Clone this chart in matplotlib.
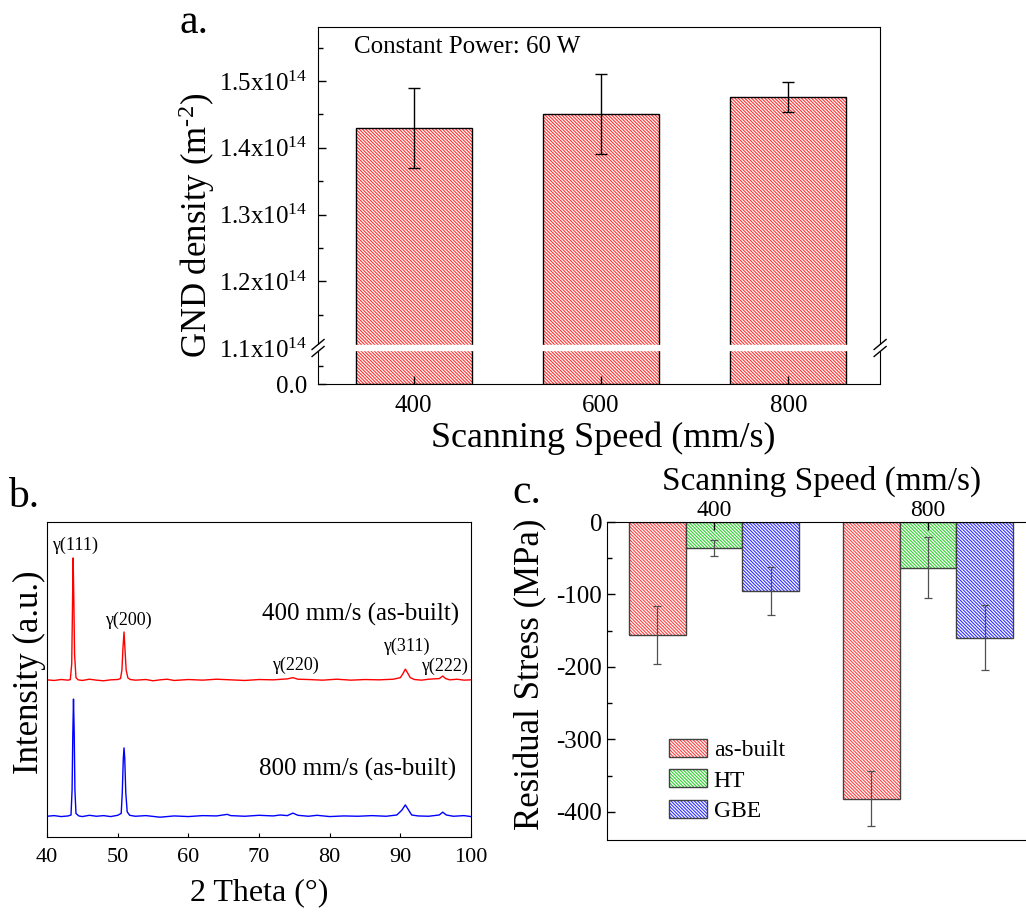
import numpy as np
import matplotlib.pyplot as plt
from matplotlib.patches import Patch, Rectangle
from matplotlib.lines import Line2D

plt.rcParams['font.family'] = 'Liberation Serif'
plt.rcParams['mathtext.fontset'] = 'custom'
plt.rcParams['mathtext.rm'] = 'Liberation Serif'
plt.rcParams['mathtext.it'] = 'Liberation Serif:italic'
plt.rcParams['axes.unicode_minus'] = False
plt.rcParams['hatch.linewidth'] = 0.8

HATCH = '\\' * 10

# (a) GND density vs scanning speed
speeds = ['400', '600', '800']
gnd = [1.43e14, 1.45e14, 1.476e14]
gnd_err = [0.06e14, 0.06e14, 0.023e14]
gnd_ticks = [0, 1.1e14, 1.2e14, 1.3e14, 1.4e14, 1.5e14]
gnd_labels = ['0.0', r'1.1x10$^{14}$', r'1.2x10$^{14}$', r'1.3x10$^{14}$',
              r'1.4x10$^{14}$', r'1.5x10$^{14}$']

# (b) XRD patterns (2 theta, intensity a.u.)
tt_400 = [40.0, 41.0, 42.0, 43.0, 43.3, 43.5, 43.6, 43.7, 43.8, 43.9, 44.1,
          44.4, 45.0, 46.0, 47.0, 48.0, 49.0, 50.0, 50.4, 50.6, 50.75, 50.9,
          51.05, 51.2, 51.45, 51.8, 52.5, 54.0, 55.0, 56.0, 57.0, 58.0, 60.0,
          62.0, 64.0, 66.0, 68.0, 70.0, 72.0, 74.0, 74.8, 75.5, 77.0, 79.0,
          81.0, 83.0, 85.0, 87.0, 89.0, 90.0, 90.4, 90.7, 91.0, 91.4, 92.0,
          93.0, 94.0, 95.5, 96.0, 96.4, 97.0, 98.0, 99.0, 100.0]
int_400 = [49.9, 49.7, 50.0, 49.8, 50.0, 55.0, 72.0, 88.6, 75.0, 58.0, 50.6,
           49.9, 49.7, 50.1, 49.8, 49.6, 49.9, 50.0, 50.3, 53.0, 60.0, 65.1,
           59.0, 53.0, 50.5, 50.0, 49.8, 50.0, 49.6, 49.9, 50.1, 49.7, 50.0,
           49.8, 50.1, 49.9, 49.7, 50.0, 49.9, 50.2, 50.6, 50.1, 50.0, 49.8,
           50.1, 49.8, 50.0, 49.9, 50.1, 50.6, 52.0, 53.3, 52.2, 50.6, 50.0,
           49.8, 50.1, 50.3, 51.1, 50.3, 49.9, 50.1, 49.8, 49.9]
tt_800 = [40.0, 41.0, 42.0, 43.0, 43.4, 43.55, 43.65, 43.75, 43.85, 43.95,
          44.1, 44.5, 45.0, 46.0, 47.0, 48.0, 49.0, 50.0, 50.5, 50.65, 50.8,
          50.9, 51.0, 51.15, 51.35, 51.7, 52.5, 54.0, 56.0, 58.0, 60.0, 62.0,
          64.0, 65.5, 66.0, 68.0, 70.0, 72.0, 73.0, 74.0, 74.8, 75.5, 77.0,
          78.2, 80.0, 82.0, 84.0, 86.0, 88.0, 89.5, 90.2, 90.7, 91.1, 91.6,
          92.5, 94.0, 95.5, 96.0, 96.5, 97.5, 99.0, 100.0]
int_800 = [6.6, 6.8, 6.5, 6.7, 7.0, 15.0, 32.0, 43.8, 33.0, 15.0,
           7.5, 6.7, 6.5, 6.9, 6.6, 6.8, 6.5, 6.9, 7.5, 14.0, 25.0,
           28.3, 25.0, 14.0, 8.0, 6.9, 6.6, 6.8, 6.3, 6.7, 6.5, 6.8,
           6.7, 7.2, 6.8, 6.6, 6.9, 6.7, 7.0, 6.8, 7.6, 6.9, 6.6,
           6.9, 6.5, 6.7, 6.6, 6.8, 6.6, 7.0, 8.5, 10.2, 8.8, 7.0,
           6.7, 6.6, 7.0, 7.9, 7.0, 6.6, 6.8, 6.5]
peak_names = ['\u03b3(111)', '\u03b3(200)', '\u03b3(220)',
              '\u03b3(311)', '\u03b3(222)']
peak_x = [43.96, 51.5, 75.1, 90.8, 96.2]
peak_y = [92.7, 68.9, 54.6, 60.6, 54.3]

# (c) residual stress
rs_speeds = ['400', '800']
rs_asbuilt = [-156, -382]
rs_asbuilt_err = [40, 38]
rs_ht = [-36, -63]
rs_ht_err = [11, 42]
rs_gbe = [-95, -160]
rs_gbe_err = [33, 45]

BREAK = 1.1e14
LOW = 0.54


def fwd(y):
    y = np.asarray(y, dtype=float)
    return np.where(y <= BREAK, y / BREAK * LOW, LOW + (y - BREAK) / 1e13)


def inv(u):
    u = np.asarray(u, dtype=float)
    return np.where(u <= LOW, u / LOW * BREAK, BREAK + (u - LOW) * 1e13)


def hatched_bar(ax, x, h, w, color, edge, lw):
    ax.bar(x, h, width=w, color='white', edgecolor=color, hatch=HATCH,
           linewidth=0)
    ax.bar(x, h, width=w, fill=False, edgecolor=edge, linewidth=lw)


fig = plt.figure(figsize=(10.26, 9.15), dpi=100)

###############################################################################
# a. GND density
ax = fig.add_axes([0.31, 0.5803, 0.5478, 0.3902])
xa = np.arange(len(speeds))
hatched_bar(ax, xa, gnd, 0.62, '#ff3030', 'k', 1.0)
ax.errorbar(xa, gnd, yerr=gnd_err, fmt='none', ecolor='k', elinewidth=1,
            capsize=4, capthick=1)
ax.set_yscale('function', functions=(fwd, inv))
ax.set_ylim(0, 1.581e14)
ax.set_xlim(-0.51, 2.49)
ax.set_yticks(gnd_ticks, labels=gnd_labels)
ax.set_yticks([0.55e14, 1.15e14, 1.25e14, 1.35e14, 1.45e14, 1.55e14],
              minor=True)
ax.set_xticks(xa, labels=speeds)
ax.tick_params(direction='in', labelsize=18, length=6, width=1)
ax.tick_params(which='minor', direction='in', length=3.5, width=1)
ax.tick_params(axis='y', pad=8)
ax.tick_params(axis='x', pad=8)
ax.set_ylabel(r'GND density (m$^{\text{-2}}$)', fontsize=25)
ax.yaxis.set_label_coords(-0.18, 0.445)
ax.set_xlabel('Scanning Speed (mm/s)', fontsize=26)
ax.xaxis.set_label_coords(0.507, -0.106)
ax.text(0.064, 0.944, 'Constant Power: 60 W', transform=ax.transAxes,
        fontsize=18, va='center', ha='left')

# axis break across the bars at 1.1x10^14
yb = LOW / float(fwd(1.581e14))
dx, dy = 6 / 562, 5 / 357
ax.add_patch(Rectangle((-0.02, yb - 2.5 / 357), 1.04, 5 / 357,
                       transform=ax.transAxes, color='white', zorder=5,
                       clip_on=False))
for x0 in (0, 1):
    for off in (-3.5 / 357, 3.5 / 357):
        ax.add_line(Line2D([x0 - dx, x0 + dx],
                           [yb + off - dy, yb + off + dy],
                           transform=ax.transAxes, color='k', lw=1,
                           zorder=6, clip_on=False))

###############################################################################
# b. XRD
bx = fig.add_axes([0.0458, 0.0852, 0.4133, 0.3443])
bx.plot(tt_400, int_400, color='red', lw=1)
bx.plot(tt_800, int_800, color='blue', lw=1)
bx.set_xlim(40, 100)
bx.set_ylim(0, 100)
bx.set_yticks([])
bx.set_xticks(np.arange(40, 101, 10))
bx.tick_params(direction='in', labelsize=16, length=3, pad=8)
for name, px, py in zip(peak_names, peak_x, peak_y):
    bx.text(px, py, name, fontsize=13, ha='center', va='center')
bx.text(98.3, 70.8, '400 mm/s (as-built)', fontsize=18, ha='right',
        va='center')
bx.text(97.9, 21.6, '800 mm/s (as-built)', fontsize=18, ha='right',
        va='center')
bx.set_ylabel('Intensity (a.u.)', fontsize=25)
bx.yaxis.set_label_coords(-0.002, 0.524)
bx.set_xlabel('2 Theta (\u00b0)', fontsize=23)
bx.xaxis.set_label_coords(0.5, -0.13)

###############################################################################
# c. residual stress
cx = fig.add_axes([0.5916, 0.082, 0.4084, 0.3475])
xc = np.arange(len(rs_speeds))
w = 0.266
series = [(rs_asbuilt, rs_asbuilt_err, '#ff4040', 'as-built'),
          (rs_ht, rs_ht_err, '#30d030', 'HT'),
          (rs_gbe, rs_gbe_err, '#3030ff', 'GBE')]
handles = []
labels = []
for i, (vals, errs, col, lab) in enumerate(series):
    xs = xc + (i - 1) * w
    hatched_bar(cx, xs, vals, w, col, '#404040', 1.0)
    cx.errorbar(xs, vals, yerr=errs, fmt='none', ecolor='#505050',
                elinewidth=0.9, capsize=3, capthick=0.9)
    handles.append((Patch(facecolor='white', edgecolor=col, hatch=HATCH,
                          linewidth=0),
                    Patch(fill=False, edgecolor='#404040', linewidth=1)))
    labels.append(lab)
cx.set_xlim(-0.5, 1.458)
cx.set_ylim(-439, 0)
cx.spines['right'].set_visible(False)
cx.xaxis.tick_top()
cx.set_xticks(xc, labels=rs_speeds)
cx.set_yticks([0, -100, -200, -300, -400])
cx.set_yticks([-50, -150, -250, -350], minor=True)
cx.tick_params(direction='in', labelsize=18, length=6, width=1)
cx.tick_params(axis='x', labelsize=17, pad=1)
cx.tick_params(which='minor', direction='in', length=3.5, width=1)
cx.set_ylabel('Residual Stress (MPa)', fontsize=25)
cx.yaxis.set_label_coords(-0.142, 0.52)
cx.text(0.513, 1.128, 'Scanning Speed (mm/s)', transform=cx.transAxes,
        fontsize=24, ha='center', va='center')
cx.legend(handles, labels, loc='upper left', bbox_to_anchor=(0.148, 0.318),
          frameon=False, fontsize=17, handlelength=1.6, handleheight=0.8,
          handletextpad=0.3, labelspacing=0.35, borderaxespad=0, borderpad=0)

fig.text(0.175, 0.964, 'a.', fontsize=30)
fig.text(0.008, 0.446, 'b.', fontsize=30)
fig.text(0.499, 0.45, 'c.', fontsize=30)

fig.savefig('out.png', dpi=100)
